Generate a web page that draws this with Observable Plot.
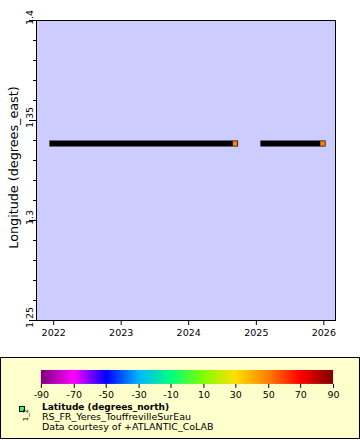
<!DOCTYPE html>
<html><head><meta charset="utf-8">
<script src="https://cdn.jsdelivr.net/npm/d3@7"></script>
<script src="https://cdn.jsdelivr.net/npm/@observablehq/plot@0.6"></script>
<style>
html,body{margin:0;padding:0;background:#fff;}
#wrap{position:relative;width:360px;height:440px;overflow:hidden;font-family:"DejaVu Sans",sans-serif;background:#fff;}
#chart{position:absolute;left:0;top:0;}
#legend{position:absolute;left:0;top:357px;width:358px;height:80px;border:1px solid #000;background:#ffffcc;}
#ramp{position:absolute;left:-1px;top:-1px;}
#ltext{position:absolute;left:-1px;top:-1px;}
</style></head><body>
<div id="wrap"><div id="chart"></div><div id="legend"><div id="ramp"></div><svg id="ltext" width="360" height="82"></svg></div></div>
<script>
// ---- data ----
const times = ["2021-12-25", "2024-09-08", "2025-02-08", "2025-12-25"];
const longitudes = [1.3385, 1.3385, 1.3385, 1.3385];
const latitudes = [49.85, 49.85, 49.85, 49.85];
const segments = ["a", "a", "b", "b"];
const yearTicks = ["2022-01-01", "2023-01-01", "2024-01-01", "2025-01-01", "2026-01-01"];
const yMajor = [1.25, 1.3, 1.35, 1.4];
const yMinor = [1.26, 1.27, 1.28, 1.29, 1.31, 1.32, 1.33, 1.34, 1.36, 1.37, 1.38, 1.39];
const latStops = [-90, -70, -50, -30, -10, 10, 30, 50, 70, 90];
const latColors = ["#800080", "#ff00ff", "#0000ff", "#00b4ff", "#00ff80", "#80ff00", "#ffe000", "#ff8000", "#ff0000", "#800000"];
const latTicks = [-90, -70, -50, -30, -10, 10, 30, 50, 70, 90];
const yLabel = "Longitude (degrees_east)";
const legendTitle = "Latitude (degrees_north)";
const legendLines = ["RS_FR_Yeres_TouffrevilleSurEau", "Data courtesy of +ATLANTIC_CoLAB"];

const data = times.map((t, i) => ({t: new Date(t + "T00:00:00Z"), lon: longitudes[i], lat: latitudes[i], seg: segments[i]}));
const FONT = '"DejaVu Sans", sans-serif';

const chart = Plot.plot({
  width: 360, height: 345,
  marginLeft: 36, marginRight: 25, marginTop: 20, marginBottom: 25,
  style: {fontFamily: FONT, fontSize: "9.5px", color: "#000", background: "transparent", overflow: "visible"},
  x: {type: "utc", domain: [new Date("2021-09-30T00:00:00Z"), new Date("2026-03-05T00:00:00Z")]},
  y: {domain: [1.25, 1.4]},
  color: {type: "linear", domain: latStops, range: latColors, interpolate: "rgb"},
  marks: [
    Plot.frame({fill: "#ccccff"}),
    Plot.line(data, {x: "t", y: "lon", z: "seg", stroke: "#000", strokeWidth: 6, strokeLinecap: "square", strokeLinejoin: "miter"}),
    Plot.dot(data, Plot.selectLast({x: "t", y: "lon", z: "seg", fill: "lat", symbol: "square", r: 2.6})),
    Plot.axisX(yearTicks.map(d => new Date(d + "T00:00:00Z")), {tickSize: 5, tickPadding: 4, tickFormat: d => String(d.getUTCFullYear()), label: null, stroke: "#000"}),
    Plot.axisY(yMinor, {tickSize: 3, tickFormat: () => "", label: null, stroke: "#000"}),
    Plot.axisY(yMajor, {tickSize: 7, tickFormat: () => "", label: null, stroke: "#000"}),
    Plot.text(yMajor, {y: d => d, text: d => String(d), frameAnchor: "left", dx: -4, dy: -3, rotate: -90, textAnchor: "middle", lineAnchor: "bottom", fill: "#000"}),
    Plot.text([yLabel], {frameAnchor: "left", dx: -19, dy: -3, rotate: -90, textAnchor: "middle", lineAnchor: "bottom", fontSize: 12.75, fill: "#000"}),
    Plot.frame({stroke: "#000"})
  ]
});
document.getElementById("chart").appendChild(chart);

const ramp = Plot.legend({
  color: {type: "linear", domain: latStops, range: latColors, interpolate: "rgb"},
  width: 360, height: 50, marginLeft: 41, marginRight: 26, marginTop: 13, marginBottom: 23,
  tickSize: 4, ticks: latTicks, tickFormat: d => String(d), label: null,
  style: {fontFamily: FONT, fontSize: "9.5px", color: "#000", background: "transparent", overflow: "visible"}
});
d3.select(ramp).selectAll(".tick line").attr("y1", 0).attr("stroke", "#000");
d3.select(ramp).selectAll(".tick text").attr("fill", "#000");
document.getElementById("ramp").appendChild(ramp);

const lt = d3.select("#ltext");
lt.append("rect").attr("x", 19.5).attr("y", 49.5).attr("width", 5).attr("height", 5).attr("fill", "#40ff40").attr("stroke", "#000");
lt.append("text").attr("transform", "translate(28,58) rotate(-90)").attr("text-anchor", "middle")
  .attr("font-family", FONT).attr("font-size", 7).text("1_2");
lt.append("text").attr("x", 42).attr("y", 53).attr("font-family", FONT).attr("font-size", 9).attr("font-weight", "bold").text(legendTitle);
legendLines.forEach((s, i) => {
  lt.append("text").attr("x", 42).attr("y", 63 + 10 * i).attr("font-family", FONT).attr("font-size", 9.5).text(s);
});
</script>
</body></html>
